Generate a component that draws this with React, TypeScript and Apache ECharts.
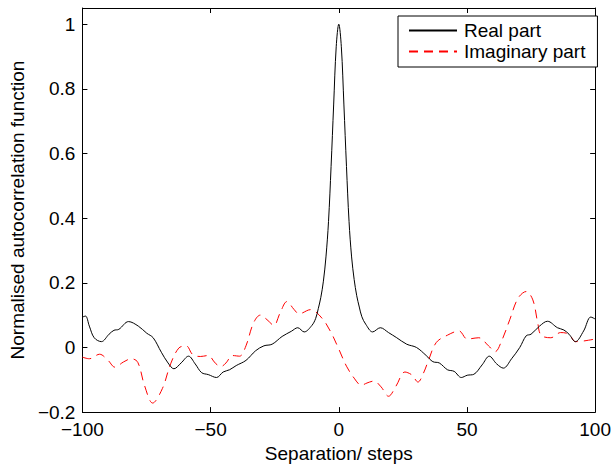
import React, { useEffect, useRef } from "react";
import * as echarts from "echarts";

// Separation (steps) and values
const realX = [
  -100, -98.8, -97.3, -95.4, -92.6, -89.6, -87.7, -85.8, -82, -78.2, -74.9, -72.4, -69.2, -66.6,
  -64.3, -61.5, -58.6, -56, -53.5, -50.9, -47.7, -45.1, -42.6, -40, -36.2, -32.4, -29.2, -26,
  -22.1, -18.5, -16, -13.5, -10.5, -9, -8, -7, -6, -5, -4, -3, -2, -1, 0,
  1, 2, 3, 4, 5, 6, 7, 8, 9, 10.5, 13.2, 16.2, 19.4, 22.6, 26.5, 30.3, 34.1, 36.7, 39.2, 42.4,
  45, 47.8, 50.1, 52.7, 55.9, 58.7, 61.6, 64.2, 67.4, 70.6, 73.1, 75, 78.3, 81.4, 85.3, 87.8,
  89.8, 92.3, 95.5, 98.3, 100,
];
const realY = [
  0.094, 0.097, 0.066, 0.03, 0.018, 0.041, 0.053, 0.056, 0.08, 0.066, 0.044, 0.03, -0.015, -0.048,
  -0.066, -0.048, -0.027, -0.051, -0.078, -0.084, -0.093, -0.076, -0.069, -0.056, -0.04, -0.01, 0.005, 0.01,
  0.034, 0.05, 0.061, 0.048, 0.068, 0.09, 0.12, 0.155, 0.205, 0.28, 0.39, 0.56, 0.75, 0.93, 1.0,
  0.93, 0.75, 0.56, 0.39, 0.28, 0.21, 0.16, 0.125, 0.095, 0.072, 0.048, 0.061, 0.046, 0.03, 0.01, 0.0, -0.025, -0.044, -0.048, -0.069,
  -0.074, -0.093, -0.086, -0.083, -0.054, -0.027, -0.051, -0.064, -0.035, 0.0, 0.036, 0.041, 0.066, 0.081, 0.061, 0.054,
  0.041, 0.018, 0.051, 0.094, 0.088,
];

const imagX = [
  -100, -97.3, -93.3, -90, -87.3, -84, -80.9, -78.4, -75.8, -72.6, -68.8, -65.6, -62.4, -59.5,
  -57, -54, -51, -48, -46, -44, -41.5, -38.7, -36.2, -33.3, -30.6, -28, -25.3, -23, -20.2,
  -17.5, -15.5, -11, -6.5, -3, 0, 3, 6, 8.8, 11, 13.7, 16.5, 19.4, 22.3, 25.8, 28.5, 30.9,
  33, 34.8, 38, 42.4, 46.9, 50.1, 54.6, 58.4, 61, 63.5, 66.7, 69.9, 73.1, 75.7, 77.6, 78.9,
  82.7, 86.5, 89.8, 92.3, 95.5, 100,
];
const imagY = [
  -0.03, -0.035, -0.021, -0.04, -0.061, -0.045, -0.035, -0.046, -0.117, -0.172, -0.127, -0.051, -0.002, 0.005,
  -0.022, -0.028, -0.025, -0.05, -0.059, -0.048, -0.025, -0.027, 0.005, 0.075, 0.1, 0.086, 0.068, 0.105, 0.142,
  0.118, 0.104, 0.117, 0.09, 0.046, -0.005, -0.058, -0.095, -0.117, -0.11, -0.104, -0.122, -0.151, -0.12, -0.076, -0.085, -0.107,
  -0.08, -0.044, 0.015, 0.038, 0.051, 0.026, 0.03, 0.005, -0.013, 0.02, 0.086, 0.152, 0.173, 0.147, 0.076, 0.038,
  0.03, 0.046, 0.041, 0.018, 0.02, 0.026,
];

const xTicks = [-100, -50, 0, 50, 100];
const yTicks = [-0.2, 0, 0.2, 0.4, 0.6, 0.8, 1];
const seriesNames = ["Real part", "Imaginary part"];
const xTitle = "Separation/ steps";
const yTitle = "Normalised autocorrelation function";

const FONT = "'Liberation Sans', Arial, Helvetica, sans-serif";

function fmt(v: number): string {
  const r = Math.round(v * 10) / 10;
  return String(r).replace("-", "\u2212");
}

export default function App() {
  const ref = useRef<HTMLDivElement>(null);
  useEffect(() => {
    if (!ref.current) return;
    const chart = echarts.init(ref.current, null, { renderer: "svg" });
    const isTick = (arr: number[], v: number) => arr.some((t) => Math.abs(t - v) < 1e-6);
    const axisCommon = {
      axisLine: { show: true, onZero: false, lineStyle: { color: "#000", width: 1 } },
      splitLine: { show: false },
    };
    chart.setOption({
      animation: false,
      backgroundColor: "#fff",
      textStyle: { fontFamily: FONT },
      grid: { left: 77, right: 16, top: 8, bottom: 50, containLabel: false },
      legend: {
        orient: "vertical",
        left: 398,
        top: 16,
        padding: [5, 12, 6, 10],
        itemGap: 2,
        itemWidth: 48,
        itemHeight: 10,
        borderColor: "#000",
        borderWidth: 1,
        backgroundColor: "#fff",
        itemStyle: { opacity: 0 },
        textStyle: { fontFamily: FONT, fontSize: 19, color: "#000", lineHeight: 19, padding: [0, 0, 0, 2] },
        data: seriesNames,
      },
      xAxis: [
        {
          type: "value",
          min: -100,
          max: 100,
          interval: 50,
          ...axisCommon,
          axisTick: { show: true, inside: true, length: 5, lineStyle: { color: "#000" } },
          axisLabel: {
            show: true,
            margin: 8,
            color: "#000",
            fontSize: 19,
            fontFamily: FONT,
            formatter: (v: number) => (isTick(xTicks, v) ? fmt(v) : ""),
          },
          name: xTitle,
          nameLocation: "middle",
          nameGap: 31,
          nameTextStyle: { color: "#000", fontSize: 19, fontFamily: FONT },
        },
        {
          type: "value",
          position: "top",
          min: -100,
          max: 100,
          interval: 50,
          ...axisCommon,
          axisTick: { show: true, inside: true, length: 5, lineStyle: { color: "#000" } },
          axisLabel: { show: false },
        },
      ],
      yAxis: [
        {
          type: "value",
          min: -0.2,
          max: 1.05,
          interval: 0.2,
          ...axisCommon,
          axisTick: { show: true, inside: true, length: 5, lineStyle: { color: "#000" } },
          axisLabel: {
            show: true,
            margin: 7,
            color: "#000",
            fontSize: 19,
            fontFamily: FONT,
            formatter: (v: number) => (isTick(yTicks, v) ? fmt(v) : ""),
          },
          name: yTitle,
          nameLocation: "middle",
          nameGap: 50,
          nameTextStyle: { color: "#000", fontSize: 19, fontFamily: FONT },
        },
        {
          type: "value",
          position: "right",
          min: -0.2,
          max: 1.05,
          interval: 0.2,
          ...axisCommon,
          axisTick: { show: true, inside: true, length: 5, lineStyle: { color: "#000" } },
          axisLabel: { show: false },
        },
      ],
      series: [
        {
          name: seriesNames[0],
          type: "line",
          data: realX.map((x, i) => [x, realY[i]]),
          showSymbol: false,
          symbol: "none",
          smooth: 0.35,
          lineStyle: { color: "#000", width: 1 },
          itemStyle: { color: "#000" },
          z: 3,
        },
        {
          name: seriesNames[1],
          type: "line",
          data: imagX.map((x, i) => [x, imagY[i]]),
          showSymbol: false,
          symbol: "none",
          smooth: 0.35,
          lineStyle: { color: "#ff0000", width: 1, type: [9, 6] },
          itemStyle: { color: "#ff0000" },
          z: 2,
        },
      ],
    });
    return () => chart.dispose();
  }, []);
  return (
    <div
      ref={ref}
      style={{ position: "fixed", left: 0, top: 0, width: 614, height: 468, background: "#fff" }}
    />
  );
}
